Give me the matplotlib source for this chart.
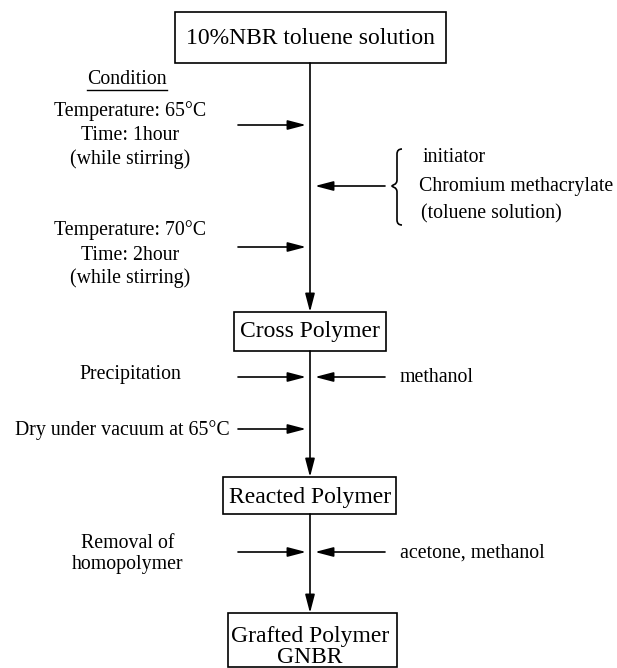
import matplotlib
matplotlib.use("Agg")
import matplotlib.pyplot as plt
from matplotlib.patches import Rectangle, PathPatch
from matplotlib.path import Path

plt.rcParams['font.family'] = ['Liberation Serif', 'DejaVu Serif']

# 流程图文字
box_labels = ["10%NBR toluene solution", "Cross Polymer", "Reacted Polymer", "Grafted Polymer\nGNBR"]
cond_title = "Condition"
left_labels = ["Temperature: 65°C", "Time: 1hour", "(while stirring)",
               "Temperature: 70°C", "Time: 2hour", "(while stirring)",
               "Precipitation", "Dry under vacuum at 65°C",
               "Removal of", "homopolymer"]
right_labels = ["initiator", "Chromium methacrylate", "(toluene solution)",
                "methanol", "acetone, methanol"]

# 位置 (像素坐标, y 向下)
box_rects = [(175, 12, 446, 63), (234, 312, 386, 351), (223, 477, 396, 514), (228, 613, 397, 667)]
box_text_y = [39, 332, 497, 647]
left_pos = [(130, 111), (130, 136), (130, 159),
            (130, 230), (130, 256), (130, 278),
            (130, 374), (122, 430),
            (128, 543), (128, 564)]
right_pos = [(423, 157), (419, 187), (421, 214), (400, 378), (400, 553)]
left_arrow_y = [125, 247, 377, 429, 552]
right_arrow_y = [186, 377, 552]
cx = 310

fig = plt.figure(figsize=(6.17, 6.68), dpi=100)
ax = fig.add_axes([0, 0, 1, 1])
ax.set_xlim(0, 617)
ax.set_ylim(668, 0)
ax.axis('off')

lw = 1.2
arrow_kw = dict(arrowstyle='-|>,head_length=0.65,head_width=0.17', color='black',
                lw=lw, mutation_scale=17, shrinkA=0, shrinkB=0)

# 方框
for (x0, y0, x1, y1), lab, ty in zip(box_rects, box_labels, box_text_y):
    ax.add_patch(Rectangle((x0, y0), x1 - x0, y1 - y0, fill=False, ec='black', lw=lw))
    ax.text(cx, ty, lab, ha='center', va='center', fontsize=17, linespacing=1.05)

# 主干箭头
for i in range(len(box_rects) - 1):
    ax.annotate('', xy=(cx, box_rects[i + 1][1]), xytext=(cx, box_rects[i][3]), arrowprops=arrow_kw)

# 左侧箭头 / 右侧箭头
for y in left_arrow_y:
    ax.annotate('', xy=(306, y), xytext=(238, y), arrowprops=arrow_kw)
for y in right_arrow_y:
    ax.annotate('', xy=(315, y), xytext=(385, y), arrowprops=arrow_kw)

# 文字
t = ax.text(127, 80, cond_title, ha='center', va='center', fontsize=14.3)
for lab, (x, y) in zip(left_labels, left_pos):
    ax.text(x, y, lab, ha='center', va='center', fontsize=14.3)
for lab, (x, y) in zip(right_labels, right_pos):
    ax.text(x, y, lab, ha='left', va='center', fontsize=14.3)

# Condition 下划线
fig.canvas.draw()
bb = t.get_window_extent().transformed(ax.transData.inverted())
ax.plot([bb.x0, bb.x1], [90, 90], color='black', lw=1.0)

# 花括号
bx, top, mid, bot = 397, 149, 186, 225
verts = [(bx + 5, top), (bx, top), (bx, top + 5),
         (bx, mid - 6),
         (bx, mid - 1), (bx - 5, mid - 1), (bx - 5, mid),
         (bx - 5, mid + 1), (bx, mid + 1), (bx, mid + 6),
         (bx, bot - 5),
         (bx, bot), (bx + 5, bot)]
codes = [Path.MOVETO, Path.CURVE3, Path.CURVE3,
         Path.LINETO,
         Path.CURVE4, Path.CURVE4, Path.CURVE4,
         Path.CURVE4, Path.CURVE4, Path.CURVE4,
         Path.LINETO,
         Path.CURVE3, Path.CURVE3]
ax.add_patch(PathPatch(Path(verts, codes), fill=False, ec='black', lw=lw))

fig.savefig('out.png', dpi=100)
